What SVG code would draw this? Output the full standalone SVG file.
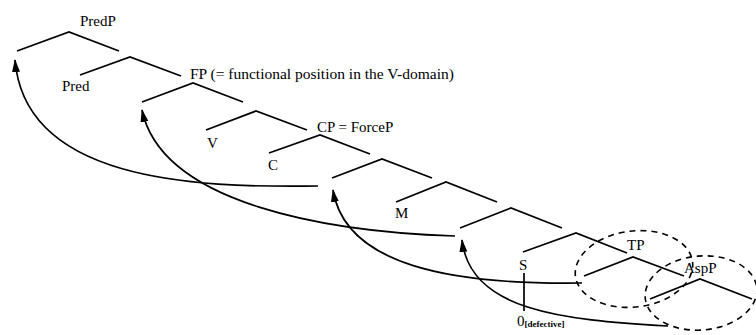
<svg xmlns="http://www.w3.org/2000/svg" width="756" height="335" viewBox="0 0 756 335">
<style>
.roof{fill:none;stroke:#000;stroke-width:1.7;stroke-linejoin:miter}
.lbl{font-family:"Liberation Serif","Times New Roman",serif;font-size:15px;fill:#000}
.mv{fill:none;stroke:#000;stroke-width:1.7}
.circ{fill:none;stroke:#000;stroke-width:1.6;stroke-dasharray:6 5}
</style>
<defs>
<marker id="ah" markerUnits="userSpaceOnUse" markerWidth="14" markerHeight="10" refX="12" refY="4" orient="auto">
<path d="M0,0 L13,4 L0,8 Z" fill="#000"/>
</marker>
</defs>
<rect width="756" height="335" fill="#fff"/>
<g id="PredP">
<text class="lbl" x="80" y="26">PredP</text>
<polyline class="roof" points="17,51 69,32 119,51"/>
</g>
<g id="Pred">
<text class="lbl" x="62" y="91">Pred</text>
</g>
<g id="Pred-bar">
<polyline class="roof" points="80,75 130,57 181,76"/>
</g>
<g id="FP">
<text class="lbl" x="190" y="79" style="font-size:15.5px">FP (= functional position in the V-domain)</text>
<polyline class="roof" points="142,102 193,83 243,102"/>
</g>
<g id="V-bar">
<polyline class="roof" points="206,130 256,111 307,130"/>
</g>
<g id="V">
<text class="lbl" x="207" y="148">V</text>
</g>
<g id="CP">
<text class="lbl" x="317" y="132">CP = ForceP</text>
<polyline class="roof" points="269,153 320,135 370,154"/>
</g>
<g id="C">
<text class="lbl" x="268" y="170">C</text>
</g>
<g id="C-bar">
<polyline class="roof" points="332,178 382,159 432,178"/>
</g>
<g id="M-phrase">
<polyline class="roof" points="396,202 446,182 497,202"/>
</g>
<g id="M">
<text class="lbl" x="395" y="218">M</text>
</g>
<g id="M-bar">
<polyline class="roof" points="460,228 511,208 562,228"/>
</g>
<g id="S-phrase">
<polyline class="roof" points="523,252 576,233 627,253"/>
</g>
<g id="S">
<text class="lbl" x="519" y="270">S</text>
<line x1="524" y1="273" x2="524" y2="311" stroke="#000" stroke-width="1.7"/>
<text class="lbl" x="517" y="326">0<tspan style="font-size:9px;font-weight:bold" dy="1">[defective]</tspan></text>
</g>
<g id="TP">
<text class="lbl" x="627" y="250">TP</text>
<polyline class="roof" points="584,276 633,257 684,276"/>
<ellipse class="circ" cx="634" cy="269" rx="59" ry="38" transform="rotate(-7 634 269)"/>
</g>
<g id="AspP">
<text class="lbl" x="684" y="273">AspP</text>
<polyline class="roof" points="650,299 700,279 752,299"/>
<ellipse class="circ" cx="701" cy="293" rx="56" ry="37" transform="rotate(-5 701 293)"/>
</g>
<g id="connectors">
<path class="mv" d="M318,186 C190,188 25,180 15,60" marker-end="url(#ah)"/>
<path class="mv" d="M455,236 C330,232 162,205 142,110" marker-end="url(#ah)"/>
<path class="mv" d="M582,283 C450,285 345,265 333,190" marker-end="url(#ah)"/>
<path class="mv" d="M668,326 C560,320 470,310 462,240" marker-end="url(#ah)"/>
</g>
</svg>
